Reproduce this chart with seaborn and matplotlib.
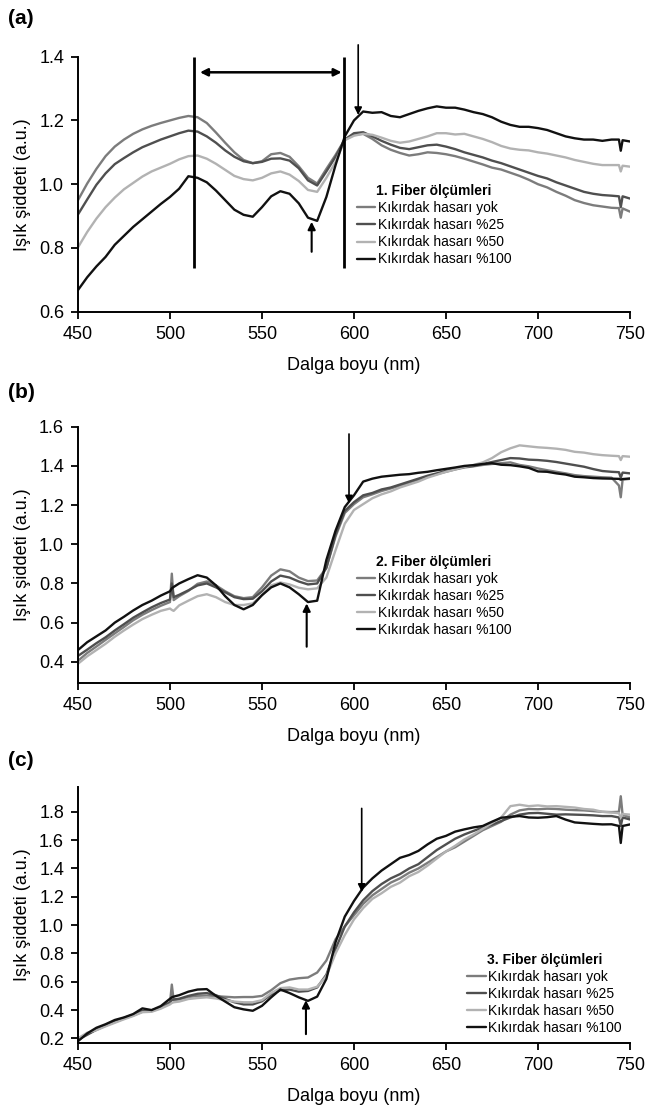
import numpy as np
import pandas as pd
import seaborn as sns
import matplotlib.pyplot as plt
from matplotlib.ticker import FormatStrFormatter

# wavelength grids (nm)
nm_a = list(range(450, 741, 5)) + [744, 745, 746, 750]
nm_bc = list(range(450, 501, 5)) + [501, 502] + list(range(505, 741, 5)) + [744, 745, 746, 750]

series = ["Kıkırdak hasarı yok", "Kıkırdak hasarı %25", "Kıkırdak hasarı %50", "Kıkırdak hasarı %100"]
colors = ["#7c7c7c", "#4f4f4f", "#b2b2b2", "#111111"]

# (a) 1. fiber
a_yok = [0.950, 1.002, 1.048, 1.088, 1.118, 1.140, 1.158, 1.172, 1.183, 1.192,
         1.200, 1.208, 1.214, 1.210, 1.192, 1.162, 1.130, 1.100, 1.076, 1.066,
         1.072, 1.094, 1.098, 1.086, 1.056, 1.020, 1.002, 1.048, 1.092, 1.140,
         1.155, 1.158, 1.142, 1.122, 1.108, 1.098, 1.090, 1.094, 1.100, 1.098,
         1.094, 1.088, 1.080, 1.071, 1.062, 1.052, 1.046, 1.036, 1.026, 1.014,
         1.000, 0.990, 0.976, 0.964, 0.950, 0.941, 0.934, 0.930, 0.926,
         0.925, 0.895, 0.924, 0.914]
a_25 = [0.905, 0.952, 0.998, 1.034, 1.063, 1.082, 1.100, 1.116, 1.128, 1.140,
        1.150, 1.160, 1.168, 1.165, 1.150, 1.130, 1.106, 1.086, 1.072, 1.066,
        1.070, 1.080, 1.081, 1.074, 1.050, 1.012, 0.996, 1.040, 1.086, 1.140,
        1.160, 1.163, 1.150, 1.136, 1.124, 1.114, 1.110, 1.116, 1.122, 1.124,
        1.118, 1.110, 1.100, 1.092, 1.084, 1.074, 1.066, 1.056, 1.046, 1.036,
        1.026, 1.018, 1.006, 0.996, 0.986, 0.976, 0.970, 0.966, 0.964,
        0.962, 0.928, 0.962, 0.955]
a_50 = [0.802, 0.850, 0.892, 0.928, 0.958, 0.984, 1.004, 1.024, 1.040, 1.052,
        1.064, 1.078, 1.088, 1.090, 1.080, 1.064, 1.045, 1.026, 1.016, 1.012,
        1.020, 1.034, 1.040, 1.030, 1.010, 0.982, 0.976, 1.020, 1.070, 1.138,
        1.152, 1.158, 1.155, 1.146, 1.136, 1.130, 1.134, 1.142, 1.150, 1.160,
        1.160, 1.156, 1.158, 1.150, 1.142, 1.132, 1.120, 1.112, 1.108, 1.106,
        1.100, 1.096, 1.090, 1.084, 1.076, 1.070, 1.064, 1.060, 1.060,
        1.060, 1.040, 1.058, 1.055]
a_100 = [0.668, 0.708, 0.742, 0.772, 0.810, 0.838, 0.866, 0.890, 0.914, 0.938,
         0.960, 0.986, 1.025, 1.020, 1.006, 0.980, 0.950, 0.920, 0.904, 0.898,
         0.928, 0.962, 0.978, 0.970, 0.940, 0.895, 0.885, 0.960, 1.060, 1.150,
         1.200, 1.228, 1.224, 1.226, 1.214, 1.210, 1.220, 1.230, 1.238, 1.244,
         1.240, 1.240, 1.234, 1.226, 1.220, 1.210, 1.196, 1.186, 1.180, 1.180,
         1.176, 1.170, 1.160, 1.150, 1.144, 1.140, 1.140, 1.136, 1.140,
         1.140, 1.105, 1.138, 1.134]

# (b) 2. fiber
b_yok = [0.405, 0.445, 0.478, 0.512, 0.545, 0.578, 0.612, 0.640, 0.664, 0.686,
         0.705, 0.850, 0.715, 0.735, 0.762, 0.798, 0.810, 0.790, 0.760, 0.735,
         0.725, 0.730, 0.780, 0.840, 0.872, 0.862, 0.830, 0.812, 0.815, 0.880,
         1.040, 1.160, 1.205, 1.240, 1.255, 1.272, 1.285, 1.300, 1.315, 1.330,
         1.345, 1.358, 1.370, 1.382, 1.392, 1.398, 1.405, 1.410, 1.414, 1.418,
         1.405, 1.398, 1.387, 1.378, 1.370, 1.362, 1.353, 1.348, 1.345, 1.342,
         1.340, 1.300, 1.240, 1.330, 1.334]
b_25 = [0.430, 0.462, 0.495, 0.525, 0.560, 0.592, 0.625, 0.652, 0.678, 0.700,
        0.718, 0.800, 0.730, 0.742, 0.765, 0.790, 0.800, 0.780, 0.755, 0.730,
        0.720, 0.722, 0.760, 0.810, 0.840, 0.830, 0.810, 0.795, 0.800, 0.880,
        1.050, 1.170, 1.215, 1.250, 1.262, 1.280, 1.290, 1.305, 1.320, 1.335,
        1.350, 1.362, 1.375, 1.385, 1.395, 1.400, 1.410, 1.420, 1.430, 1.440,
        1.438, 1.432, 1.430, 1.426, 1.420, 1.412, 1.404, 1.396, 1.384, 1.374,
        1.370, 1.368, 1.340, 1.366, 1.362]
b_50 = [0.390, 0.428, 0.460, 0.492, 0.528, 0.560, 0.590, 0.618, 0.640, 0.660,
        0.672, 0.665, 0.660, 0.688, 0.712, 0.735, 0.745, 0.730, 0.705, 0.690,
        0.690, 0.698, 0.740, 0.790, 0.805, 0.795, 0.778, 0.770, 0.775, 0.830,
        0.970, 1.105, 1.175, 1.205, 1.235, 1.255, 1.270, 1.290, 1.305, 1.320,
        1.340, 1.355, 1.370, 1.382, 1.395, 1.405, 1.418, 1.440, 1.470, 1.490,
        1.505, 1.500, 1.495, 1.492, 1.488, 1.482, 1.472, 1.468, 1.460, 1.455,
        1.452, 1.450, 1.430, 1.450, 1.447]
b_100 = [0.460, 0.500, 0.530, 0.560, 0.600, 0.630, 0.662, 0.690, 0.712, 0.738,
         0.760, 0.775, 0.782, 0.800, 0.822, 0.842, 0.830, 0.790, 0.735, 0.690,
         0.668, 0.690, 0.740, 0.780, 0.800, 0.780, 0.745, 0.705, 0.712, 0.920,
         1.070, 1.190, 1.250, 1.320, 1.335, 1.345, 1.350, 1.355, 1.358, 1.365,
         1.370, 1.378, 1.385, 1.392, 1.400, 1.404, 1.410, 1.414, 1.406, 1.404,
         1.398, 1.390, 1.372, 1.370, 1.362, 1.356, 1.345, 1.342, 1.338, 1.336,
         1.335, 1.334, 1.330, 1.333, 1.336]

# (c) 3. fiber
c_yok = [0.195, 0.230, 0.260, 0.290, 0.315, 0.340, 0.362, 0.388, 0.392, 0.415,
         0.450, 0.580, 0.470, 0.475, 0.492, 0.500, 0.502, 0.498, 0.494, 0.490,
         0.492, 0.492, 0.500, 0.540, 0.590, 0.615, 0.625, 0.630, 0.665, 0.750,
         0.900, 0.990, 1.070, 1.150, 1.210, 1.255, 1.300, 1.330, 1.370, 1.400,
         1.440, 1.480, 1.520, 1.550, 1.590, 1.630, 1.670, 1.700, 1.730, 1.780,
         1.810, 1.820, 1.818, 1.822, 1.820, 1.815, 1.812, 1.810, 1.805, 1.800,
         1.798, 1.800, 1.910, 1.780, 1.760]
c_25 = [0.190, 0.225, 0.262, 0.292, 0.318, 0.345, 0.366, 0.395, 0.398, 0.420,
        0.455, 0.470, 0.475, 0.480, 0.500, 0.515, 0.520, 0.505, 0.478, 0.455,
        0.440, 0.440, 0.462, 0.510, 0.540, 0.545, 0.530, 0.535, 0.560, 0.650,
        0.830, 0.990, 1.090, 1.175, 1.240, 1.290, 1.330, 1.360, 1.400, 1.430,
        1.480, 1.530, 1.570, 1.610, 1.640, 1.665, 1.690, 1.710, 1.735, 1.760,
        1.780, 1.790, 1.792, 1.786, 1.780, 1.782, 1.780, 1.778, 1.775, 1.770,
        1.770, 1.760, 1.700, 1.760, 1.746]
c_50 = [0.200, 0.240, 0.258, 0.285, 0.310, 0.335, 0.358, 0.385, 0.388, 0.410,
        0.440, 0.450, 0.455, 0.460, 0.478, 0.485, 0.490, 0.482, 0.470, 0.460,
        0.455, 0.455, 0.470, 0.520, 0.555, 0.560, 0.545, 0.545, 0.565, 0.640,
        0.800, 0.930, 1.040, 1.120, 1.185, 1.225, 1.270, 1.300, 1.345, 1.375,
        1.420, 1.470, 1.520, 1.560, 1.605, 1.640, 1.680, 1.720, 1.760, 1.840,
        1.850, 1.840, 1.845, 1.838, 1.840, 1.835, 1.830, 1.820, 1.815, 1.800,
        1.795, 1.790, 1.760, 1.785, 1.780]
c_100 = [0.180, 0.235, 0.275, 0.300, 0.330, 0.348, 0.372, 0.412, 0.400, 0.428,
         0.480, 0.490, 0.495, 0.505, 0.530, 0.545, 0.548, 0.500, 0.460, 0.420,
         0.405, 0.395, 0.430, 0.490, 0.545, 0.520, 0.490, 0.465, 0.495, 0.620,
         0.880, 1.060, 1.170, 1.265, 1.330, 1.385, 1.430, 1.475, 1.495, 1.524,
         1.570, 1.610, 1.630, 1.660, 1.676, 1.690, 1.700, 1.730, 1.758, 1.765,
         1.770, 1.760, 1.758, 1.762, 1.770, 1.745, 1.725, 1.720, 1.715, 1.711,
         1.712, 1.700, 1.580, 1.700, 1.711]

panels = [
    dict(tag="(a)", title="1. Fiber ölçümleri", nm=nm_a, vals=[a_yok, a_25, a_50, a_100],
         ylim=(0.6, 1.4), yticks=np.arange(0.6, 1.41, 0.2),
         rect=[0.1196, 0.7184, 0.8466, 0.2304], leg=(0.505, 0.50)),
    dict(tag="(b)", title="2. Fiber ölçümleri", nm=nm_bc, vals=[b_yok, b_25, b_50, b_100],
         ylim=(0.29, 1.6), yticks=np.arange(0.4, 1.61, 0.2),
         rect=[0.1196, 0.3827, 0.8466, 0.2318], leg=(0.505, 0.50)),
    dict(tag="(c)", title="3. Fiber ölçümleri", nm=nm_bc, vals=[c_yok, c_25, c_50, c_100],
         ylim=(0.165, 1.977), yticks=np.arange(0.2, 1.81, 0.2),
         rect=[0.1196, 0.0575, 0.8466, 0.2318], leg=(0.705, 0.352)),
]
tag_y = [1 - 18 / 1107, 1 - 392 / 1107, 1 - 760 / 1107]

# annotation marks
a_vlines_x = [513.2, 594.7]
a_vlines_y = (0.736, 1.398)
a_span = ((516.3, 1.351), (593.3, 1.351))
down_arrows = [((602.3, 1.437), (602.3, 1.217)),
               ((597.3, 1.563), (597.3, 1.209)),
               ((604.2, 1.824), (604.2, 1.235))]
up_arrows = [((577.0, 0.788), (577.0, 0.882)),
             ((574.3, 0.477), (574.3, 0.698)),
             ((573.9, 0.23), (573.9, 0.47))]

sns.set_style("ticks")
plt.rcParams["font.family"] = ["Liberation Sans", "DejaVu Sans"]
plt.rcParams.update({"text.color": "black", "axes.labelcolor": "black",
                     "xtick.color": "black", "ytick.color": "black"})

fig = plt.figure(figsize=(6.52, 11.07), dpi=100)

for i, p in enumerate(panels):
    ax = fig.add_axes(p["rect"])
    df = pd.concat([pd.DataFrame({"nm": p["nm"], "val": v, "seri": s})
                    for v, s in zip(p["vals"], series)])
    sns.lineplot(data=df, x="nm", y="val", hue="seri", hue_order=series,
                 palette=colors, linewidth=1.7, estimator=None, ax=ax)
    ax.set_xlim(450, 750)
    ax.set_ylim(*p["ylim"])
    ax.set_xticks([450, 500, 550, 600, 650, 700, 750])
    ax.set_yticks(p["yticks"])
    ax.yaxis.set_major_formatter(FormatStrFormatter("%.1f"))
    ax.tick_params(labelsize=13, length=5, width=1.3, pad=5, color="black")
    for s in ["left", "bottom"]:
        ax.spines[s].set_linewidth(1.4)
        ax.spines[s].set_color("black")
    sns.despine(ax=ax)
    ax.set_xlabel("Dalga boyu (nm)", fontsize=13, labelpad=10)
    ax.set_ylabel("Işık şiddeti (a.u.)", fontsize=13, labelpad=6)

    h, l = ax.get_legend_handles_labels()
    ax.legend(h, l, title=p["title"], loc="upper left", bbox_to_anchor=p["leg"],
              frameon=False, fontsize=10, title_fontproperties={"weight": "bold", "size": 10},
              handlelength=1.35, handletextpad=0.15, labelspacing=0.22, borderpad=0,
              borderaxespad=0)

    if i == 0:
        ax.vlines(a_vlines_x, *a_vlines_y, color="black", lw=2)
        ax.annotate("", xy=a_span[1], xytext=a_span[0],
                    arrowprops=dict(arrowstyle="<|-|>", color="black", lw=1.8,
                                    mutation_scale=11, shrinkA=0, shrinkB=0))
    ax.annotate("", xy=down_arrows[i][1], xytext=down_arrows[i][0],
                annotation_clip=False,
                arrowprops=dict(arrowstyle="-|>", color="black", lw=1.2,
                                mutation_scale=11, shrinkA=0, shrinkB=0))
    ax.annotate("", xy=up_arrows[i][1], xytext=up_arrows[i][0],
                arrowprops=dict(arrowstyle="-|>", color="black", lw=1.5,
                                mutation_scale=11, shrinkA=0, shrinkB=0))

    fig.text(0.012, tag_y[i], p["tag"], fontsize=15, fontweight="bold", va="center")

fig.savefig("out.png", dpi=100)
